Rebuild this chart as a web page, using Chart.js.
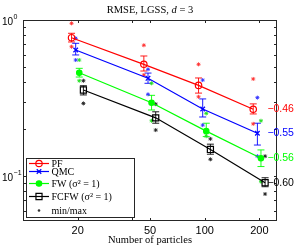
<!DOCTYPE html>
<html><head><meta charset="utf-8">
<script src="https://cdn.jsdelivr.net/npm/chart.js@4"></script>
<style>html,body{margin:0;padding:0;background:#fff}</style>
</head><body>
<canvas id="c" width="299" height="248"></canvas>
<script>
// ---- data ----
const particles = [20, 50, 100, 200];
const seriesLabels = ['PF', 'QMC', 'FW (σ² = 1)', 'FCFW (σ² = 1)'];
const jitter = [0.925, 0.975, 1.02, 1.075];
const slopes = [-0.46, -0.55, -0.56, -0.60];
const xTicks = [20, 50, 100, 200];
const yTickLabels = [1, 0.1];

const pfMean = [0.770, 0.520, 0.381, 0.268];
const pfLow  = [0.723, 0.471, 0.340, 0.250];
const pfHigh = [0.822, 0.588, 0.425, 0.290];
const pfMin  = [0.674, 0.444, 0.322, 0.216];
const pfMax  = [0.952, 0.689, 0.520, 0.419];

const qmcMean = [0.642, 0.423, 0.269, 0.188];
const qmcLow  = [0.597, 0.393, 0.239, 0.158];
const qmcHigh = [0.709, 0.457, 0.312, 0.218];
const qmcMin  = [0.554, 0.334, 0.212, 0.134];
const qmcMax  = [0.763, 0.483, 0.412, 0.318];

const fwMean = [0.459, 0.295, 0.194, 0.130];
const fwLow  = [0.431, 0.265, 0.179, 0.115];
const fwHigh = [0.490, 0.329, 0.218, 0.147];
const fwMin  = [0.408, 0.226, 0.180, 0.092];
const fwMax  = [0.554, 0.393, 0.252, 0.226];

const fcfwMean = [0.356, 0.236, 0.148, 0.0906];
const fcfwLow  = [0.331, 0.218, 0.138, 0.0854];
const fcfwHigh = [0.379, 0.258, 0.160, 0.0975];
const fcfwMin  = [0.292, 0.197, 0.128, 0.0767];
const fcfwMax  = [0.408, 0.289, 0.173, 0.134];

// ---- styles ----
const means = [pfMean, qmcMean, fwMean, fcfwMean];
const lows = [pfLow, qmcLow, fwLow, fcfwLow];
const highs = [pfHigh, qmcHigh, fwHigh, fcfwHigh];
const mins = [pfMin, qmcMin, fwMin, fcfwMin];
const maxs = [pfMax, qmcMax, fwMax, fcfwMax];
const colors = ['#ff0000', '#0000ff', '#00ff00', '#000000'];
const dotColors = ['#ff3030', '#3030ff', '#20e020', '#202020'];
const markers = [
  {style: 'circle', r: 3.2, fill: false},
  {style: 'crossRot', r: 3.2, fill: false},
  {style: 'circle', r: 2.7, fill: true},
  {style: 'rect', r: 4.3, fill: false}
];
const SERIF = "'Liberation Serif', 'Times New Roman', serif";
const SANS = "'Liberation Sans', Arial, sans-serif";

const datasets = [];
for (let k = 0; k < 4; k++) {
  const m = markers[k];
  datasets.push({
    label: seriesLabels[k],
    data: particles.map((p, i) => ({x: p * jitter[k], y: means[k][i]})),
    borderColor: colors[k], borderWidth: 1.2,
    pointStyle: m.style, pointRadius: m.r, pointHoverRadius: m.r,
    pointBorderColor: colors[k], pointBorderWidth: 1.2,
    pointBackgroundColor: m.fill ? colors[k] : 'rgba(0,0,0,0)',
    fill: false, tension: 0
  });
}
for (let k = 0; k < 4; k++) {
  const pts = [];
  particles.forEach((p, i) => {
    pts.push({x: p * jitter[k], y: mins[k][i]});
    pts.push({x: p * jitter[k], y: maxs[k][i]});
  });
  datasets.push({
    label: 'min/max', data: pts, showLine: false,
    pointStyle: 'star', pointRadius: 2, pointBorderWidth: 0.9,
    pointBorderColor: dotColors[k], pointBackgroundColor: dotColors[k]
  });
}

function drawMarker(ctx, m, x, y, color) {
  ctx.save();
  ctx.strokeStyle = color; ctx.fillStyle = color; ctx.lineWidth = 1.2;
  ctx.beginPath();
  if (m.style === 'circle') {
    ctx.arc(x, y, m.r, 0, Math.PI * 2);
  } else if (m.style === 'rect') {
    const s = m.r * Math.SQRT1_2;
    ctx.rect(x - s, y - s, 2 * s, 2 * s);
  } else if (m.style === 'crossRot') {
    const d = m.r * Math.SQRT1_2;
    ctx.moveTo(x - d, y - d); ctx.lineTo(x + d, y + d);
    ctx.moveTo(x - d, y + d); ctx.lineTo(x + d, y - d);
  }
  if (m.fill) ctx.fill();
  ctx.stroke();
  ctx.restore();
}

const matlabPlugin = {
  id: 'matlab',
  beforeDatasetsDraw(chart) {
    const {ctx, scales: {x, y}} = chart;
    ctx.save();
    ctx.lineWidth = 0.9;
    for (let k = 0; k < 4; k++) {
      ctx.strokeStyle = colors[k];
      particles.forEach((p, i) => {
        const px = x.getPixelForValue(p * jitter[k]);
        const yl = y.getPixelForValue(lows[k][i]);
        const yh = y.getPixelForValue(highs[k][i]);
        ctx.beginPath();
        ctx.moveTo(px, yl); ctx.lineTo(px, yh);
        ctx.moveTo(px - 3.5, yl); ctx.lineTo(px + 3.5, yl);
        ctx.moveTo(px - 3.5, yh); ctx.lineTo(px + 3.5, yh);
        ctx.stroke();
      });
    }
    ctx.restore();
  },
  afterDraw(chart) {
    const {ctx, chartArea: a, scales: {x, y}} = chart;
    ctx.save();
    // axes box
    ctx.strokeStyle = '#262626'; ctx.lineWidth = 1;
    ctx.strokeRect(Math.round(a.left) + 0.5, Math.round(a.top) + 0.5,
                   Math.round(a.right - a.left) - 1, Math.round(a.bottom - a.top) - 1);
    // x ticks (inward, top & bottom)
    ctx.beginPath();
    [20, 40, 50, 100, 200].forEach(v => {
      const px = Math.round(x.getPixelForValue(v)) + 0.5;
      ctx.moveTo(px, a.bottom); ctx.lineTo(px, a.bottom - 3);
      ctx.moveTo(px, a.top); ctx.lineTo(px, a.top + 3);
    });
    // y ticks (major + minor, left & right)
    const yt = [];
    [1, 0.1, 0.01].forEach(d => {
      for (let m = 1; m <= 9; m++) {
        const v = m * d;
        if (v >= y.min && v <= y.max) yt.push(v);
      }
    });
    yt.forEach(v => {
      const py = Math.round(y.getPixelForValue(v)) + 0.5;
      ctx.moveTo(a.left, py); ctx.lineTo(a.left + 3, py);
      ctx.moveTo(a.right, py); ctx.lineTo(a.right - 3, py);
    });
    ctx.stroke();

    // y tick labels 10^n
    ctx.fillStyle = '#000';
    ctx.textBaseline = 'alphabetic'; ctx.textAlign = 'left';
    yTickLabels.forEach(v => {
      const py = y.getPixelForValue(v);
      const e = Math.round(Math.log10(v));
      ctx.font = '10px ' + SANS;
      ctx.fillText('10', 2, py + 4.5);
      const w = ctx.measureText('10').width;
      ctx.font = '7px ' + SANS;
      ctx.fillText(e < 0 ? '\u2212' + (-e) : String(e), 2 + w + 0.5, py - 1.5);
    });

    // slope labels
    ctx.font = '10.5px ' + SANS;
    ctx.textBaseline = 'middle';
    for (let k = 0; k < 4; k++) {
      const last = particles.length - 1;
      const px = x.getPixelForValue(particles[last]) + 8;
      const py = y.getPixelForValue(means[k][last]);
      ctx.fillStyle = colors[k];
      ctx.fillText('\u2212' + Math.abs(slopes[k]).toFixed(2), px, py);
    }

    // title
    ctx.fillStyle = '#000';
    ctx.textBaseline = 'alphabetic';
    const parts = [['RMSE, LGSS, ', ''], ['d', 'italic '], [' = 3', '']];
    let tw = 0;
    parts.forEach(p => { ctx.font = p[1] + '10.5px ' + SERIF; tw += ctx.measureText(p[0]).width; });
    let tx = (a.left + a.right) / 2 - tw / 2;
    parts.forEach(p => { ctx.font = p[1] + '10.5px ' + SERIF; ctx.fillText(p[0], tx, 13); tx += ctx.measureText(p[0]).width; });

    // x label
    ctx.font = '10.5px ' + SERIF;
    ctx.textAlign = 'center';
    ctx.fillText('Number of particles', (a.left + a.right) / 2, 243);

    // legend
    const L = {x0: 26.5, y0: 158.5, x1: 134.5, y1: 217.5};
    ctx.fillStyle = '#fff';
    ctx.fillRect(L.x0, L.y0, L.x1 - L.x0, L.y1 - L.y0);
    ctx.strokeStyle = '#262626'; ctx.lineWidth = 1;
    ctx.strokeRect(L.x0, L.y0, L.x1 - L.x0, L.y1 - L.y0);
    const rows = [163.5, 171.5, 183.5, 196.5, 210.5];
    ctx.textAlign = 'left'; ctx.textBaseline = 'middle';
    ctx.font = '10px ' + SERIF;
    for (let k = 0; k < 4; k++) {
      ctx.strokeStyle = colors[k]; ctx.lineWidth = 1.2;
      ctx.beginPath(); ctx.moveTo(29, rows[k]); ctx.lineTo(49, rows[k]); ctx.stroke();
      drawMarker(ctx, markers[k], 39, rows[k], colors[k]);
      ctx.fillStyle = '#000';
      ctx.fillText(seriesLabels[k], 51.5, rows[k] + 0.5);
    }
    ctx.fillStyle = '#333';
    ctx.beginPath(); ctx.arc(39, rows[4], 1.3, 0, Math.PI * 2); ctx.fill();
    ctx.fillStyle = '#000';
    ctx.fillText('min/max', 51.5, rows[4] + 0.5);
    ctx.restore();
  }
};

new Chart(document.getElementById('c'), {
  type: 'line',
  data: {datasets},
  options: {
    responsive: false, animation: false, devicePixelRatio: 1,
    layout: {padding: {left: 23, top: 20, right: 22, bottom: 0}},
    plugins: {legend: {display: false}, tooltip: {enabled: false}, title: {display: false}},
    scales: {
      x: {
        type: 'logarithmic', min: 10, max: 250,
        grid: {display: false, drawTicks: false}, border: {display: false},
        afterBuildTicks: s => { s.ticks = xTicks.map(v => ({value: v})); },
        afterFit: s => { s.height = 27; },
        ticks: {autoSkip: false, maxRotation: 0, padding: 3, color: '#000',
                font: {family: SANS, size: 11}, callback: v => String(v)}
      },
      y: {
        type: 'logarithmic', min: 0.0515, max: 1, display: false
      }
    }
  },
  plugins: [matlabPlugin]
});
</script>
</body></html>
